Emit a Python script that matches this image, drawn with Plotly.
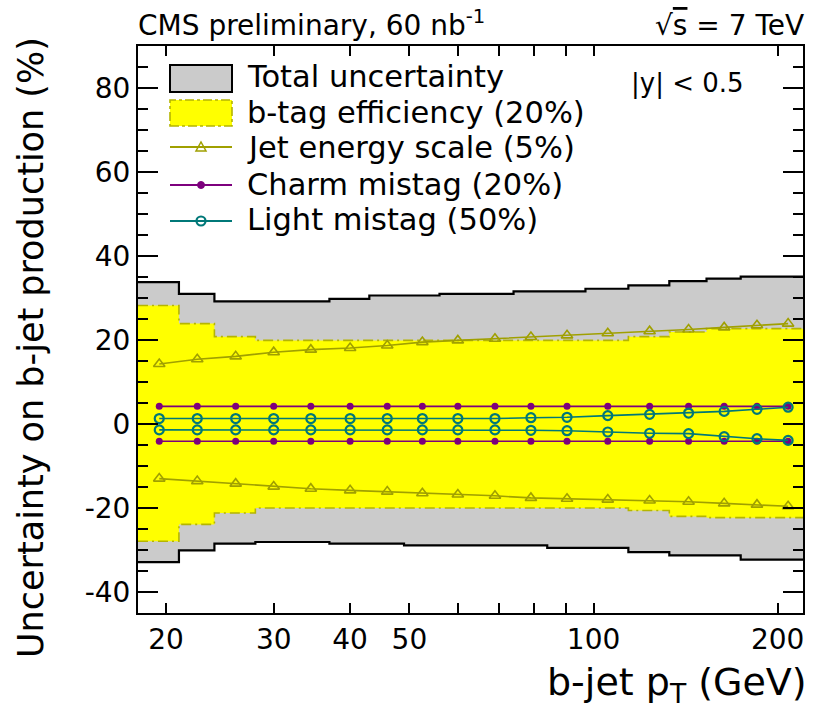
import plotly.graph_objects as go

# b-jet pT binning (GeV)
bin_edges = [18, 21, 24, 28, 32, 37, 43, 49, 56, 64, 74, 84, 97, 114, 133, 153, 174, 196, 220]

# Total uncertainty band (%), per bin
total_up = [33.8, 31.0, 29.2, 29.2, 29.2, 29.8, 30.6, 30.6, 31.0, 31.0, 31.6, 31.6, 32.2, 33.0, 34.0, 34.6, 35.1, 35.1]
total_down = [-32.9, -30.1, -28.5, -28.1, -28.1, -28.5, -28.5, -28.9, -28.9, -28.9, -28.9, -29.5, -29.5, -30.5, -31.3, -31.3, -32.3, -32.3]

# b-tag efficiency band (%), per bin
btag_up = [28.2, 23.9, 20.8, 19.9, 19.9, 19.9, 19.9, 19.9, 19.9, 19.9, 19.9, 19.9, 19.9, 20.8, 21.9, 22.7, 22.7, 22.7]
btag_down = [-27.9, -23.9, -21.2, -20.0, -20.0, -20.0, -20.0, -20.0, -20.0, -20.0, -20.0, -20.0, -20.0, -20.6, -22.0, -22.3, -22.3, -22.3]

# Jet energy scale (%)
jes_up = [14.3, 15.4, 16.1, 17.1, 17.7, 18.1, 18.7, 19.5, 19.9, 20.3, 20.7, 21.1, 21.6, 22.1, 22.5, 23.0, 23.5, 23.9]
jes_down = [-13.0, -13.6, -14.2, -14.9, -15.4, -15.8, -16.1, -16.5, -16.8, -17.1, -17.6, -17.8, -18.0, -18.2, -18.5, -18.9, -19.2, -19.6]

# Charm mistag (%)
charm_up = [4.2] * 18
charm_down = [-4.1] * 18

# Light mistag (%)
light_up = [1.3, 1.3, 1.3, 1.3, 1.3, 1.3, 1.3, 1.3, 1.3, 1.3, 1.5, 1.6, 2.0, 2.3, 2.6, 3.0, 3.5, 4.0]
light_down = [-1.4, -1.4, -1.4, -1.4, -1.4, -1.4, -1.4, -1.4, -1.4, -1.4, -1.5, -1.6, -1.9, -2.2, -2.3, -3.0, -3.5, -3.9]

x_tick_vals = [20, 30, 40, 50, 100, 200]
x_tick_text = ["20", "30", "40", "50", "100", "200"]
x_minor_vals = [60, 70, 80, 90]
y_tick_vals = [-40, -20, 0, 20, 40, 60, 80]
y_tick_text = ["-40", "-20", "0", "20", "40", "60", "80"]

legend_labels = ["Total uncertainty", "b-tag efficiency (20%)", "Jet energy scale (5%)",
                 "Charm mistag (20%)", "Light mistag (50%)"]

FONT = "DejaVu Sans"
GRAY = "#cbcbcb"
YELLOW = "#ffff00"
OLIVE = "#a0a000"
BTAG_LINE = "#b5b500"
PURPLE = "#7d007d"
TEAL = "#007878"

W, H = 823, 714
ML, MR, MT, MB = 138, 20, 46, 101
PW, PH = W - ML - MR, H - MT - MB

lo_edges = bin_edges[:-1]
hi_edges = bin_edges[1:]
centers = [(a + b) / 2 for a, b in zip(lo_edges, hi_edges)]


def step_xy(vals):
    xs, ys = [], []
    for a, b, v in zip(lo_edges, hi_edges, vals):
        xs += [a, b]
        ys += [v, v]
    return xs, ys


def band_polygon(up, down):
    xu, yu = step_xy(up)
    xd, yd = step_xy(down)
    return xu + xd[::-1] + [xu[0]], yu + yd[::-1] + [yu[0]]


fig = go.Figure()

# total uncertainty band
bx, by = band_polygon(total_up, total_down)
fig.add_trace(go.Scatter(x=bx, y=by, fill="toself", fillcolor=GRAY, mode="none",
                         showlegend=False, hoverinfo="skip"))
for vals in (total_up, total_down):
    sx, sy = step_xy(vals)
    fig.add_trace(go.Scatter(x=sx, y=sy, mode="lines", line=dict(color="black", width=2.2),
                             showlegend=False, hoverinfo="skip"))

# b-tag efficiency band
bx, by = band_polygon(btag_up, btag_down)
fig.add_trace(go.Scatter(x=bx, y=by, fill="toself", fillcolor=YELLOW, mode="none",
                         showlegend=False, hoverinfo="skip"))
for vals in (btag_up, btag_down):
    sx, sy = step_xy(vals)
    fig.add_trace(go.Scatter(x=sx, y=sy, mode="lines",
                             line=dict(color=BTAG_LINE, width=1.6, dash="10px,4px,2px,4px"),
                             showlegend=False, hoverinfo="skip"))

# jet energy scale
for vals in (jes_up, jes_down):
    fig.add_trace(go.Scatter(x=centers, y=vals, mode="lines+markers",
                             line=dict(color=OLIVE, width=1.6),
                             marker=dict(symbol="triangle-up-open", size=10, color=OLIVE,
                                         line=dict(width=1.6, color=OLIVE)),
                             showlegend=False, hoverinfo="skip"))

# charm mistag
for vals in (charm_up, charm_down):
    fig.add_trace(go.Scatter(x=centers, y=vals, mode="lines+markers",
                             line=dict(color=PURPLE, width=1.6),
                             marker=dict(symbol="circle", size=7, color=PURPLE),
                             showlegend=False, hoverinfo="skip"))

# light mistag
for vals in (light_up, light_down):
    fig.add_trace(go.Scatter(x=centers, y=vals, mode="lines+markers",
                             line=dict(color=TEAL, width=1.6),
                             marker=dict(symbol="circle-open", size=9, color=TEAL,
                                         line=dict(width=2.2, color=TEAL)),
                             showlegend=False, hoverinfo="skip"))


def px(x):
    return (x - ML) / PW


def py(y):
    return (H - MB - y) / PH


shapes = []
annotations = []

# legend entries
box_x0, box_x1, mark_x = 170, 232, 201
shapes.append(dict(type="rect", xref="paper", yref="paper", x0=px(box_x0), x1=px(box_x1),
                   y0=py(92), y1=py(65), fillcolor=GRAY, line=dict(color="black", width=2)))
shapes.append(dict(type="rect", xref="paper", yref="paper", x0=px(box_x0), x1=px(box_x1),
                   y0=py(126), y1=py(100), fillcolor=YELLOW,
                   line=dict(color=BTAG_LINE, width=1.6, dash="dashdot")))
line_rows = [(147, OLIVE), (185, PURPLE), (221, TEAL)]
for yrow, col in line_rows:
    shapes.append(dict(type="line", xref="paper", yref="paper", x0=px(box_x0), x1=px(box_x1),
                       y0=py(yrow), y1=py(yrow), line=dict(color=col, width=2)))
# legend markers
shapes.append(dict(type="path", xref="paper", yref="paper",
                   path="M {} {} L {} {} L {} {} Z".format(px(mark_x - 5), py(151), px(mark_x + 5), py(151),
                                                           px(mark_x), py(142)),
                   line=dict(color=OLIVE, width=1.5), fillcolor="rgba(0,0,0,0)"))
shapes.append(dict(type="circle", xref="paper", yref="paper", x0=px(mark_x - 3.5), x1=px(mark_x + 3.5),
                   y0=py(185 + 3.5), y1=py(185 - 3.5), fillcolor=PURPLE, line=dict(color=PURPLE, width=1)))
shapes.append(dict(type="circle", xref="paper", yref="paper", x0=px(mark_x - 4.5), x1=px(mark_x + 4.5),
                   y0=py(221 + 4.5), y1=py(221 - 4.5), fillcolor="rgba(0,0,0,0)",
                   line=dict(color=TEAL, width=2.2)))

for label, yrow in zip(legend_labels, [76, 112, 147, 184, 219]):
    annotations.append(dict(text=label, xref="paper", yref="paper", x=px(245), y=py(yrow),
                            xanchor="left", yanchor="middle", showarrow=False,
                            font=dict(family=FONT, size=30.5, color="black")))

annotations.append(dict(text="|y| < 0.5", xref="paper", yref="paper", x=px(746), y=py(83),
                        xanchor="right", yanchor="middle", showarrow=False,
                        font=dict(family=FONT, size=26, color="black")))

# header
annotations.append(dict(text="CMS preliminary, 60 nb<sup>-1</sup>", xref="paper", yref="paper",
                        x=px(136), y=py(44), xanchor="left", yanchor="bottom", showarrow=False,
                        font=dict(family=FONT, size=28, color="black")))
annotations.append(dict(text="\u221a<span style='text-decoration:overline'>s</span> = 7 TeV",
                        xref="paper", yref="paper",
                        x=px(806), y=py(44), xanchor="right", yanchor="bottom", showarrow=False,
                        font=dict(family=FONT, size=28, color="black")))

# axis titles
annotations.append(dict(text="b-jet p<sub>T</sub> (GeV)", xref="paper", yref="paper",
                        x=px(809), y=py(684), xanchor="right", yanchor="middle", showarrow=False,
                        font=dict(family=FONT, size=38, color="black")))
annotations.append(dict(text="Uncertainty on b-jet production (%)", xref="paper", yref="paper",
                        x=px(31), y=py(348), xanchor="center", yanchor="middle", textangle=-90,
                        showarrow=False, font=dict(family=FONT, size=35, color="black")))

fig.update_layout(
    width=W, height=H,
    margin=dict(l=ML, r=MR, t=MT, b=MB),
    paper_bgcolor="white", plot_bgcolor="white",
    showlegend=False,
    shapes=shapes, annotations=annotations,
    xaxis=dict(type="log", range=[1.2553, 2.3424], showgrid=False, zeroline=False,
               showline=True, linecolor="black", linewidth=2, mirror="allticks",
               ticks="inside", ticklen=10, tickwidth=2, tickcolor="black",
               tickmode="array", tickvals=x_tick_vals, ticktext=x_tick_text,
               minor=dict(tickmode="array", tickvals=x_minor_vals, ticks="inside", ticklen=10,
                          tickwidth=2, tickcolor="black"),
               tickfont=dict(family=FONT, size=28, color="black")),
    yaxis=dict(range=[-45, 90], showgrid=False, zeroline=False,
               showline=True, linecolor="black", linewidth=2, mirror="allticks",
               ticks="inside", ticklen=20, tickwidth=2, tickcolor="black",
               tickmode="array", tickvals=y_tick_vals, ticktext=y_tick_text,
               minor=dict(dtick=5, ticks="inside", ticklen=10, tickwidth=2, tickcolor="black"),
               tickfont=dict(family=FONT, size=28, color="black")),
)

fig.write_html("out.html")
